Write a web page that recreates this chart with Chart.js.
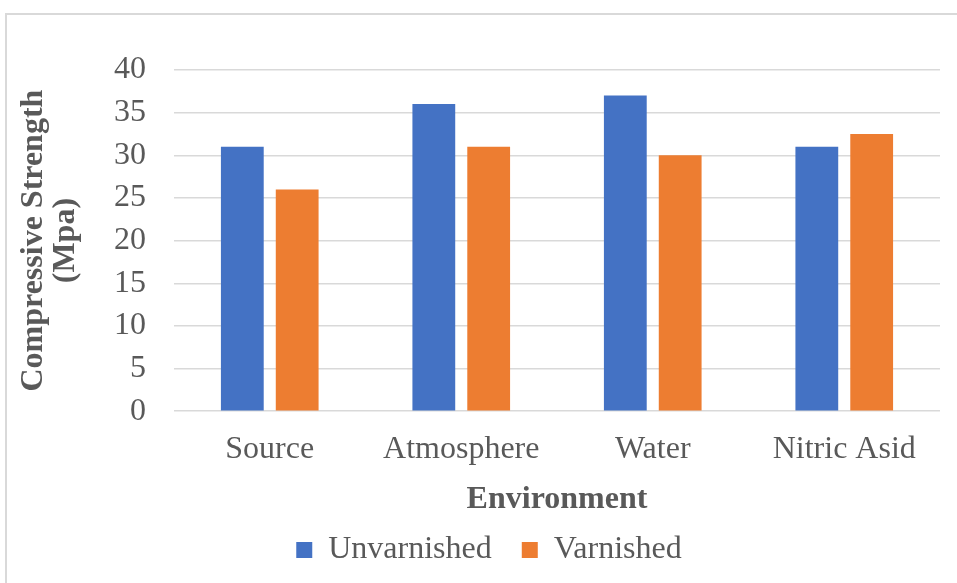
<!DOCTYPE html>
<html lang="en">
<head>
  <meta charset="UTF-8">
  <title>Compressive Strength</title>
  <script src="https://cdn.jsdelivr.net/npm/chart.js"></script>
  <style>
    html, body {
      margin: 0;
      padding: 0;
      background: #ffffff;
      overflow: hidden;
    }

    #frame {
      position: absolute;
      left: 5px;
      top: 13px;
      width: 1000px;
      height: 700px;
      border: 2px solid #d9d9d9;
    }

    #wrap {
      position: absolute;
      left: 0;
      top: 0;
      width: 957px;
      height: 583px;
    }
  </style>
</head>
<body>

  <div id="frame"></div>
  <div id="wrap"><canvas id="strengthChart" width="957" height="583"></canvas></div>

  <script>
    const categories = ["Source", "Atmosphere", "Water", "Nitric Asid"];
    const unvarnished = [31, 36, 37, 31];
    const varnished = [26, 31, 30, 32.5];
    const yTicks = [0, 5, 10, 15, 20, 25, 30, 35, 40];

    const textColor = "#595959";
    const serif = "'Liberation Serif', 'Times New Roman', serif";

    // nudge the legend a bit to the right, like the original
    const legendShift = {
      id: 'legendShift',
      afterLayout(chart) {
        chart.legend.left += 11;
        chart.legend.right += 11;
      }
    };

    const ctx = document.getElementById('strengthChart').getContext('2d');

    new Chart(ctx, {
      type: 'bar',
      data: {
        labels: categories,
        datasets: [
          {
            label: 'Unvarnished',
            data: unvarnished,
            backgroundColor: '#4472c4',
            categoryPercentage: 0.573,
            barPercentage: 0.78
          },
          {
            label: 'Varnished',
            data: varnished,
            backgroundColor: '#ed7d31',
            categoryPercentage: 0.573,
            barPercentage: 0.78
          }
        ]
      },
      plugins: [legendShift],
      options: {
        responsive: false,
        animation: false,
        layout: {
          padding: { left: 16, right: 17, top: 70, bottom: 7 }
        },
        plugins: {
          legend: {
            position: 'bottom',
            labels: {
              color: textColor,
              font: { family: serif, size: 32 },
              boxWidth: 16,
              boxHeight: 16,
              padding: 30
            }
          },
          tooltip: { enabled: false }
        },
        scales: {
          x: {
            grid: { display: false, drawTicks: false },
            border: { display: false },
            ticks: {
              color: textColor,
              font: { family: serif, size: 32 },
              padding: 19
            },
            title: {
              display: true,
              text: 'Environment',
              color: textColor,
              font: { family: serif, size: 32, weight: 'bold' },
              padding: { top: -7, bottom: -15 }
            }
          },
          y: {
            min: 0,
            max: 40,
            afterBuildTicks: (axis) => {
              axis.ticks = yTicks.map(v => ({ value: v }));
            },
            grid: {
              color: '#d9d9d9',
              lineWidth: 1.5,
              drawTicks: false
            },
            border: { display: false },
            ticks: {
              color: textColor,
              font: { family: serif, size: 32 },
              padding: 28,
              autoSkip: false
            },
            title: {
              display: true,
              text: ['Compressive Strength', '(Mpa)'],
              color: textColor,
              font: { family: serif, size: 32, weight: 'bold', lineHeight: 1.0 },
              padding: { top: 2, bottom: 4 }
            }
          }
        }
      }
    });
  </script>

</body>
</html>
